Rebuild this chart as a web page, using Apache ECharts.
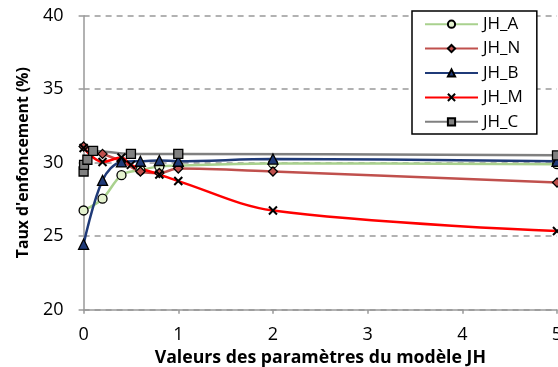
<!DOCTYPE html>
<html><head><meta charset="utf-8">
<script src="https://cdn.jsdelivr.net/npm/echarts@6/dist/echarts.min.js"></script>
<style>html,body{margin:0;padding:0;background:#fff}#c{width:558px;height:367px}</style>
</head><body><div id="c"></div>
<script>
const xTicks = [0, 1, 2, 3, 4, 5];
const yTicks = [20, 25, 30, 35, 40];

const xA = [0, 0.2, 0.4, 0.6, 0.8, 1, 2, 5];
const yA = [26.75, 27.55, 29.15, 29.5, 29.75, 29.8, 29.95, 29.9];

const xN = [0, 0.2, 0.4, 0.6, 0.8, 1, 2, 5];
const yN = [31.1, 30.6, 30.1, 29.4, 29.3, 29.6, 29.4, 28.65];

const xB = [0, 0.2, 0.4, 0.6, 0.8, 1, 2, 5];
const yB = [24.45, 28.8, 30.05, 30.1, 30.15, 30.1, 30.25, 30.1];

const xM = [0, 0.2, 0.4, 0.5, 0.8, 1, 2, 5];
const yM = [31.0, 30.05, 30.35, 29.85, 29.2, 28.75, 26.75, 25.35];

const xC = [0, 0.005, 0.04, 0.1, 0.5, 1, 5];
const yC = [29.4, 29.85, 30.2, 30.8, 30.6, 30.6, 30.5];

const names = ['JH_A', 'JH_N', 'JH_B', 'JH_M', 'JH_C'];

function pairs(xs, ys) { return xs.map((x, i) => [x, ys[i]]); }

const FONT = 'Open Sans';
const crossPath = 'path://M0,0L10,10M10,0L0,10';

function mk(name, xs, ys, lineColor, symbol, fill, size) {
  return {
    name: name, type: 'line', data: pairs(xs, ys), smooth: 0.35,
    symbol: symbol, symbolSize: size, showSymbol: true,
    lineStyle: { color: lineColor, width: 2.5 },
    itemStyle: { color: fill, borderColor: '#000', borderWidth: 1.3 },
    emphasis: { disabled: true }, animation: false, clip: false
  };
}

const chart = echarts.init(document.getElementById('c'), null, { renderer: 'canvas' });
chart.setOption({
  animation: false,
  grid: { left: 83.6, right: 1, top: 15.7, bottom: 57.3, containLabel: false, outerBoundsMode: 'none' },
  xAxis: {
    type: 'value', min: xTicks[0], max: xTicks[xTicks.length - 1], interval: 1,
    axisLine: { show: true, lineStyle: { color: '#999', width: 1.5 } },
    axisTick: { show: true, length: 4, lineStyle: { color: '#999', width: 1.5 } },
    axisLabel: { color: '#000', fontFamily: FONT, fontSize: 18, margin: 16, alignMaxLabel: 'center', alignMinLabel: 'center' },
    splitLine: { show: false },
    name: 'Valeurs des paramètres du modèle JH', nameLocation: 'middle', nameGap: 35,
    nameTextStyle: { color: '#000', fontFamily: FONT, fontSize: 17.7, fontWeight: 'bold' }
  },
  yAxis: {
    type: 'value', min: yTicks[0], max: yTicks[yTicks.length - 1], interval: 5,
    axisLine: { show: true, lineStyle: { color: '#999', width: 1.5 } },
    axisTick: { show: true, length: 5, lineStyle: { color: '#999', width: 1.5 } },
    axisLabel: { color: '#000', fontFamily: FONT, fontSize: 18, margin: 20 },
    splitLine: { show: true, lineStyle: { color: '#999', width: 1.5, type: [6, 5] } },
    name: "Taux d'enfoncement (%)", nameLocation: 'middle', nameGap: 52,
    nameTextStyle: { color: '#000', fontFamily: FONT, fontSize: 15.8, fontWeight: 'bold' }
  },
  legend: {
    data: names, orient: 'vertical', left: 412, top: 11,
    padding: [1, 14, 0, 12], itemGap: 0, itemWidth: 53, itemHeight: 9,
    borderColor: '#000', borderWidth: 1.5, backgroundColor: '#fff',
    textStyle: { color: '#000', fontFamily: FONT, fontSize: 17, lineHeight: 24.4 }
  },
  series: [
    mk(names[0], xA, yA, '#a9d18e', 'circle', '#e4f2cf', 9),
    mk(names[1], xN, yN, '#c0504d', 'diamond', '#c0504d', 9),
    mk(names[2], xB, yB, '#1f3a78', 'triangle', '#1f3a78', 10),
    Object.assign(mk(names[3], xM, yM, '#ff0000', crossPath, 'none', 8),
      { itemStyle: { color: 'none', borderColor: '#000', borderWidth: 2 } }),
    mk(names[4], xC, yC, '#808080', 'rect', '#808080', 9)
  ]
});
</script></body></html>
